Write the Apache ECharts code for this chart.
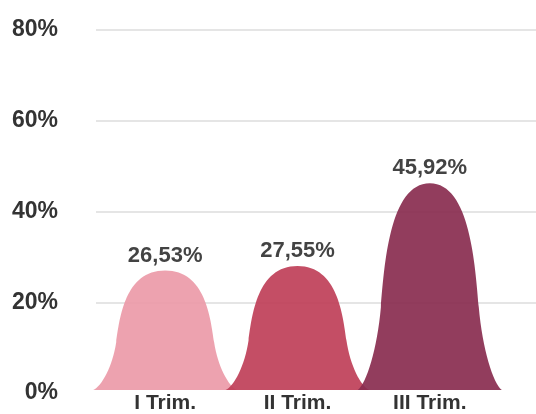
<!DOCTYPE html>
<html>
<head>
<meta charset="utf-8">
<script src="https://cdn.jsdelivr.net/npm/echarts@6/dist/echarts.min.js"></script>
<style>
  html, body { margin: 0; padding: 0; background: #fff; }
  #chart { width: 536px; height: 414px; }
</style>
</head>
<body>
<div id="chart"></div>
<script>
// Quarterly shares (percent)
const categories = ['I Trim.', 'II Trim.', 'III Trim.'];
const values = [26.53, 27.55, 45.92];
const yTicks = [0, 20, 40, 60, 80];

const barColors = ['#EC9AA8', '#BF3F58', '#892D4F'];
const FONT = '"Liberation Sans", Arial, sans-serif';

// Bell-shaped mark: flared base, narrow body, rounded dome
const bellPath = 'path://M0,100 C6,97 13.5,80 16,60 C18.5,40 22,0 50,0 C78,0 81.5,40 84,60 C86.5,80 94,97 100,100 Z';

const fmt = v => v.toFixed(2).replace('.', ',') + '%';

const chart = echarts.init(document.getElementById('chart'), null, { renderer: 'canvas' });
chart.setOption({
  animation: false,
  backgroundColor: '#fff',
  grid: [
    { left: 96, right: 0, top: 30, bottom: 21 },
    { left: 99, right: 40, top: 30, bottom: 21 }
  ],
  xAxis: [
    { gridIndex: 0, type: 'value', show: false, min: 0, max: 1 },
    {
      gridIndex: 1, type: 'category', data: categories,
      axisLine: { show: false }, axisTick: { show: false },
      axisLabel: { color: '#333', fontFamily: FONT, fontWeight: 'bold', fontSize: 21, margin: 3 }
    }
  ],
  yAxis: [
    {
      gridIndex: 0, type: 'value', min: yTicks[0], max: yTicks[yTicks.length - 1], interval: 20,
      axisLine: { show: false }, axisTick: { show: false },
      axisLabel: {
        color: '#333', fontFamily: FONT, fontWeight: 'bold', fontSize: 23, margin: 38,
        padding: [0, 0, 11, 0],
        formatter: v => v + '%'
      },
      splitLine: { show: true, showMinLine: false, lineStyle: { color: '#dcdcdc', width: 1.5 } }
    },
    {
      gridIndex: 1, type: 'value', min: yTicks[0], max: yTicks[yTicks.length - 1], show: false,
      splitLine: { show: false }
    }
  ],
  series: [{
    type: 'pictorialBar',
    xAxisIndex: 1, yAxisIndex: 1,
    symbol: bellPath,
    symbolSize: [144, '100%'],
    barCategoryGap: '0%',
    data: values.map((v, i) => ({ value: v, itemStyle: { color: barColors[i], opacity: 0.92 } })),
    label: {
      show: true, position: 'top', distance: 4,
      color: '#333', fontFamily: FONT, fontWeight: 'bold', fontSize: 22,
      formatter: p => fmt(p.value)
    }
  }]
});
</script>
</body>
</html>
